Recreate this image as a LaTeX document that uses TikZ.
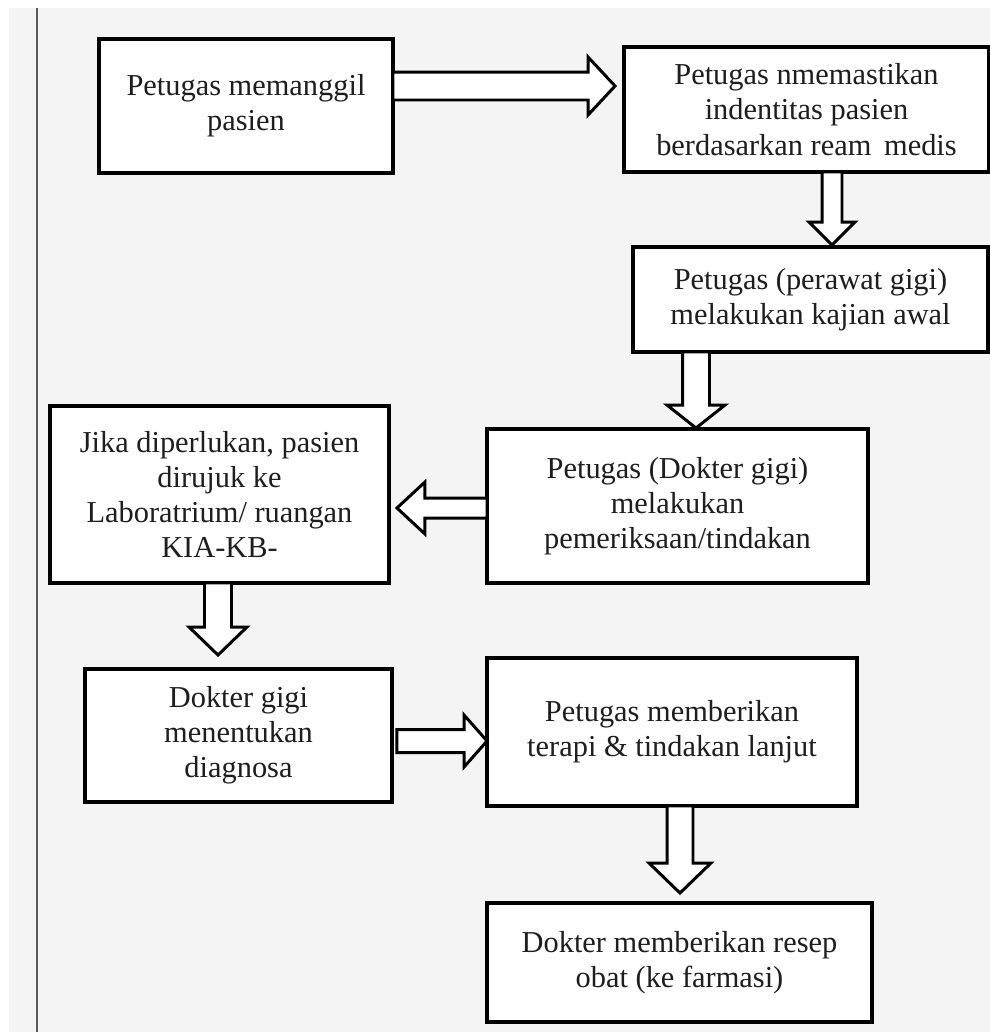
\documentclass[tikz,border=0pt]{standalone}
\usepackage{fontspec}
\setmainfont{Liberation Serif}
\usetikzlibrary{calc}
\definecolor{bgc}{HTML}{F4F4F4}
\definecolor{txtc}{HTML}{1E1E1E}
\definecolor{rulec}{HTML}{5A5A5A}
% #1 start, #2 tip, #3 half shaft width, #4 half head width, #5 head length
\newcommand{\blockarrow}[5]{%
  \coordinate (ba-s) at (#1);
  \coordinate (ba-e) at (#2);
  \coordinate (ba-h) at ($(ba-e)!#5!(ba-s)$);
  \draw[arr] ($(ba-s)!#3!90:(ba-e)$) -- ($(ba-h)!#3!90:(ba-e)$)
    -- ($(ba-h)!#4!90:(ba-e)$) -- (ba-e) -- ($(ba-h)!#4!-90:(ba-e)$)
    -- ($(ba-h)!#3!-90:(ba-e)$) -- ($(ba-s)!#3!-90:(ba-e)$) -- cycle;
}
\tikzset{
  box/.style={draw=black, line width=2pt, fill=white, outer sep=0pt, inner sep=0pt,
    align=center, text=txtc, font=\fontsize{17.3}{20}\selectfont},
  arr/.style={draw=black, line width=1.7pt, fill=white, line join=miter, miter limit=10},
}
\begin{document}
\begin{tikzpicture}[x=0.02cm, y=-0.02cm]
\useasboundingbox (0,0) rectangle (990,1032);
\fill[white] (0,0) rectangle (990,1032);
\fill[bgc] (9,8) rectangle (990,1032);
\draw[rulec, line width=1.2pt] (37,8) -- (37,1032);

\node[box, minimum width=5.88cm, minimum height=2.68cm] (b1) at (246,106)
  {Petugas memanggil\\pasien};
\node[box, minimum width=7.3cm, minimum height=2.5cm] (b2) at (806.5,109.5)
  {Petugas nmemastikan\\indentitas pasien\\berdasarkan ream\, medis};
\node[box, minimum width=7.1cm, minimum height=2.1cm] (b3) at (810.5,299.5)
  {Petugas (perawat gigi)\\melakukan kajian awal};
\node[box, minimum width=7.62cm, minimum height=3.08cm] (b4) at (677.5,506)
  {Petugas (Dokter gigi)\\melakukan\\pemeriksaan/tindakan};
\node[box, minimum width=6.78cm, minimum height=3.54cm] (b5) at (219.5,494.5)
  {Jika diperlukan, pasien\\dirujuk ke\\Laboratrium/ ruangan\\KIA-KB-};
\node[box, minimum width=6.14cm, minimum height=2.66cm] (b6) at (238.5,735.5)
  {Dokter gigi\\menentukan\\diagnosa};
\node[box, minimum width=7.4cm, minimum height=2.96cm] (b7) at (672,732)
  {Petugas memberikan\\terapi \& tindakan lanjut};
\node[box, minimum width=7.7cm, minimum height=2.38cm] (b8) at (679.5,962.5)
  {Dokter memberikan resep\\obat (ke farmasi)};

\coordinate (y1) at (0,86);
\coordinate (x2) at (832,0);
\coordinate (x3) at (696,0);
\coordinate (y4) at (0,508);
\coordinate (x5) at (218,0);
\coordinate (y6) at (0,741);
\coordinate (x7) at (680,0);

\blockarrow{b1.east |- y1}{$(b2.west |- y1)+(-9,0)$}{0.28cm}{0.58cm}{0.54cm}
\blockarrow{x2 |- b2.south}{$(x2 |- b3.north)+(0,-2)$}{0.2cm}{0.46cm}{0.46cm}
\blockarrow{x3 |- b3.south}{$(x3 |- b4.north)+(0,-1)$}{0.27cm}{0.58cm}{0.46cm}
\blockarrow{b4.west |- y4}{$(b5.east |- y4)+(8,0)$}{0.2cm}{0.52cm}{0.56cm}
\blockarrow{x5 |- b5.south}{$(x5 |- b6.north)+(0,-14)$}{0.27cm}{0.58cm}{0.56cm}
\blockarrow{$(b6.east |- y6)+(5,0)$}{b7.west |- y6}{0.23cm}{0.52cm}{0.46cm}
\blockarrow{x7 |- b7.south}{$(x7 |- b8.north)+(0,-10)$}{0.26cm}{0.62cm}{0.6cm}
\end{tikzpicture}
\end{document}
